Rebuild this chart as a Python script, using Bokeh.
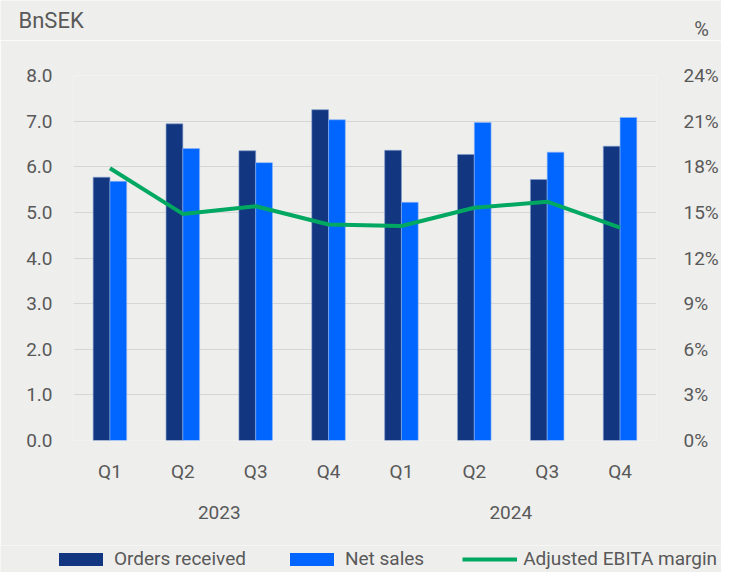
from bokeh.plotting import figure
from bokeh.layouts import column
from bokeh.models import (Range1d, LinearAxis, FixedTicker, PrintfTickFormatter,
                          Legend, LegendItem, Label, ColumnDataSource)
from bokeh.embed import file_html
from bokeh.resources import INLINE

years = ["2023"] * 4 + ["2024"] * 4
year_labels = ["2023", "2024"]
quarters = ["Q1", "Q2", "Q3", "Q4"] * 2
orders_received = [5.77, 6.94, 6.35, 7.25, 6.36, 6.27, 5.72, 6.45]
net_sales = [5.68, 6.40, 6.09, 7.03, 5.22, 6.97, 6.32, 7.08]
ebita_margin = [17.9, 14.9, 15.4, 14.2, 14.1, 15.3, 15.7, 14.0]
left_ticks = [0, 1, 2, 3, 4, 5, 6, 7, 8]
right_ticks = [0, 3, 6, 9, 12, 15, 18, 21, 24]
series_names = ["Orders received", "Net sales", "Adjusted EBITA margin"]

FONT = "Roboto"
TXT = "#595959"
BG = "#eeeeec"
C_ORD = "#12367f"
C_NS = "#0066ff"
C_LINE = "#00a862"
BAR_W = 0.23
W = 721

n = len(quarters)
centers = [i + 0.5 for i in range(n)]
src = ColumnDataSource(dict(
    x=centers,
    xo=[c - BAR_W / 2 for c in centers],
    xs=[c + BAR_W / 2 for c in centers],
    orders=orders_received, sales=net_sales, margin=ebita_margin))

per_year = n // len(year_labels)
year_centers = [i * per_year + per_year // 2 for i in range(len(year_labels))]


def blank(height, y_range):
    f = figure(width=W, height=height, x_range=Range1d(0, n), y_range=y_range,
               output_backend="svg", toolbar_location=None,
               x_axis_location=None, y_axis_location=None,
               background_fill_color=BG, border_fill_color=BG, outline_line_color=None,
               min_border=0, min_border_left=0, min_border_right=0,
               min_border_top=0, min_border_bottom=0)
    f.grid.grid_line_color = None
    return f


# ---- header with unit labels
head = blank(40, Range1d(0, 1))
head.add_layout(Label(x=18, y=20, x_units="screen", y_units="screen", text="BnSEK",
                      text_font=FONT, text_font_size="22px", text_color=TXT,
                      text_baseline="middle"))
head.add_layout(Label(x=701, y=12, x_units="screen", y_units="screen", text="%",
                      text_font=FONT, text_font_size="20px", text_color=TXT,
                      text_baseline="middle", text_align="center"))

# ---- main chart
p = figure(x_range=Range1d(0, n), y_range=Range1d(0, 8), width=W, height=505,
           output_backend="svg", toolbar_location=None,
           background_fill_color=BG, border_fill_color=BG, outline_line_color=None,
           min_border_left=73, min_border_right=58, min_border_top=35, min_border_bottom=105)
p.extra_y_ranges = {"pct": Range1d(0, 24)}

p.vbar(x="xo", top="orders", width=BAR_W, source=src,
       fill_color=C_ORD, line_color="#7f9bd0", line_width=1, line_alpha=0.6)
p.vbar(x="xs", top="sales", width=BAR_W, source=src,
       fill_color=C_NS, line_color="#8fb5f5", line_width=1, line_alpha=0.6)
p.line(x="x", y="margin", source=src, y_range_name="pct", line_color=C_LINE, line_width=4)

ya = p.yaxis[0]
ya.ticker = FixedTicker(ticks=left_ticks)
ya.formatter = PrintfTickFormatter(format="%.1f")
ra = LinearAxis(y_range_name="pct", ticker=FixedTicker(ticks=right_ticks),
                formatter=PrintfTickFormatter(format="%d%%"))
p.add_layout(ra, "right")

xa = p.xaxis[0]
xa.ticker = FixedTicker(ticks=centers)
xa.major_label_overrides = {c: q for c, q in zip(centers, quarters)}
yr_axis = LinearAxis(ticker=FixedTicker(ticks=year_centers),
                     major_label_overrides={c: y for c, y in zip(year_centers, year_labels)})
p.add_layout(yr_axis, "below")

for ax in [ya, ra, xa, yr_axis]:
    ax.axis_line_color = None
    ax.major_tick_line_color = None
    ax.minor_tick_line_color = None
    ax.major_label_text_font = FONT
    ax.major_label_text_font_size = "19px"
    ax.major_label_text_color = TXT
ya.major_label_standoff = 15
ra.major_label_standoff = 21
xa.major_label_standoff = 13
yr_axis.major_label_standoff = 14

p.xgrid.grid_line_color = None
p.ygrid.grid_line_color = "#d6d6d6"
p.ygrid.grid_line_width = 1
p.ygrid.ticker = FixedTicker(ticks=left_ticks)

# ---- legend strip (series drawn out of view; only their legend swatches show)
leg = blank(27, Range1d(100, 101))
g1 = leg.vbar(x="xo", top="orders", width=BAR_W, source=src, fill_color=C_ORD, line_color=None)
g2 = leg.vbar(x="xs", top="sales", width=BAR_W, source=src, fill_color=C_NS, line_color=None)
g3 = leg.line(x="x", y="margin", source=src, line_color=C_LINE, line_width=4)
legend = Legend(items=[LegendItem(label=series_names[0], renderers=[g1]),
                       LegendItem(label=series_names[1], renderers=[g2]),
                       LegendItem(label=series_names[2], renderers=[g3])],
                orientation="horizontal", location=(53, 2),
                glyph_width=55, glyph_height=16, label_height=16, label_standoff=6, spacing=38,
                padding=0, margin=0, background_fill_alpha=0, border_line_color=None,
                label_text_font=FONT, label_text_font_size="19px", label_text_color=TXT)
leg.add_layout(legend, "center")

layout = column(column(head), p, column(leg), spacing=0)
open("out.html", "w").write(file_html(layout, INLINE))
